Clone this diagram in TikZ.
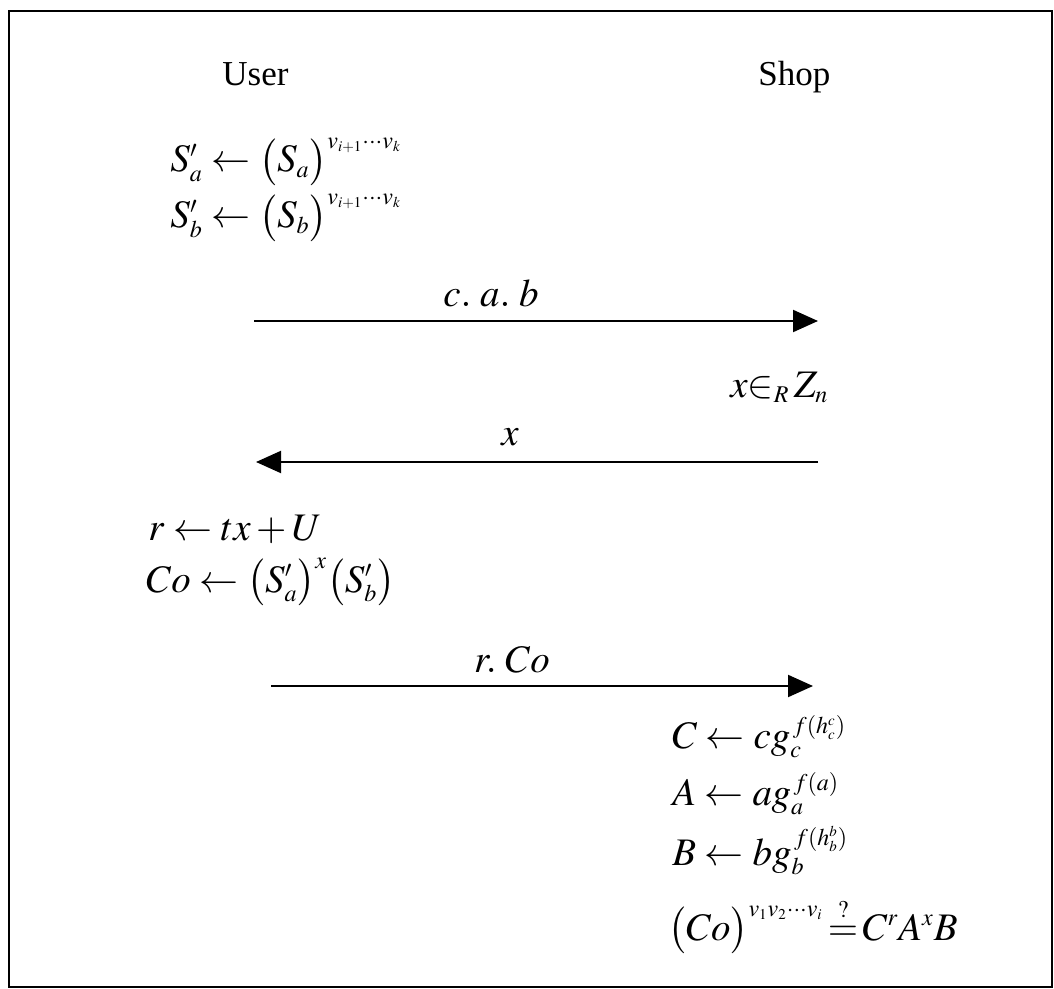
\documentclass[tikz,border=0pt]{standalone}
\usepackage{mathptmx}
\usepackage{fontspec}
\setmainfont{Liberation Serif}
\DeclareMathSizes{19.5}{19.5}{12}{7.5}
\usetikzlibrary{arrows.meta}
\begin{document}
\begin{tikzpicture}[x=0.5pt,y=-0.5pt,
  txt/.style={anchor=base west,inner sep=0pt,font=\fontsize{17.5}{21}\selectfont},
  mth/.style={anchor=base west,inner sep=0pt,font=\fontsize{19.5}{23}\selectfont},
  msg/.style={line width=1pt,-{Triangle[length=12.5pt,width=11pt]}}]
\useasboundingbox (0,0) rectangle (1054,989);
\draw[line width=1.3pt] (9,11) rectangle (1052,987);
\node[txt] (user) at (222,86) {User};
\node[txt] (shop) at (758,86) {Shop};
\node[mth] (sa) at (170,172) {$S'_a \leftarrow \bigl(S_a\bigr)^{v_{i+1}\cdots v_k}$};
\node[mth] (sb) at (170,228) {$S'_b \leftarrow \bigl(S_b\bigr)^{v_{i+1}\cdots v_k}$};
\coordinate (m1a) at (254,321);
\coordinate (m1b) at (818,321);
\draw[msg] (m1a) -- (m1b);
\node[mth,anchor=base] (l1) at (491,307) {$c.\;a.\;b$};
\node[mth] (xr) at (730,397) {$x{\in_R}\,Z_n$};
\coordinate (m2a) at (818,462);
\coordinate (m2b) at (256,462);
\draw[msg] (m2a) -- (m2b);
\node[mth,anchor=base] (l2) at (510,445) {$x$};
\node[mth] (r) at (148,540) {$r \leftarrow tx + U$};
\node[mth] (co) at (146,592) {$Co \leftarrow \bigl(S'_a\bigr)^x \bigl(S'_b\bigr)$};
\coordinate (m3a) at (271,686);
\coordinate (m3b) at (813,686);
\draw[msg] (m3a) -- (m3b);
\node[mth,anchor=base] (l3) at (512,672) {$r.\;Co$};
\node[mth] (cc) at (672,748) {$C \leftarrow cg_c^{\,f\left(h_c^c\right)}$};
\node[mth] (aa) at (672,805) {$A \leftarrow ag_a^{\,f(a)}$};
\node[mth] (bb) at (672,865) {$B \leftarrow bg_b^{\,f\left(h_b^b\right)}$};
\node[mth] (ver) at (668,940) {$\bigl(Co\bigr)^{v_1v_2\cdots v_i}\!\mathrel{\stackrel{?}{=}}\! C^r A^x B$};
\end{tikzpicture}
\end{document}
